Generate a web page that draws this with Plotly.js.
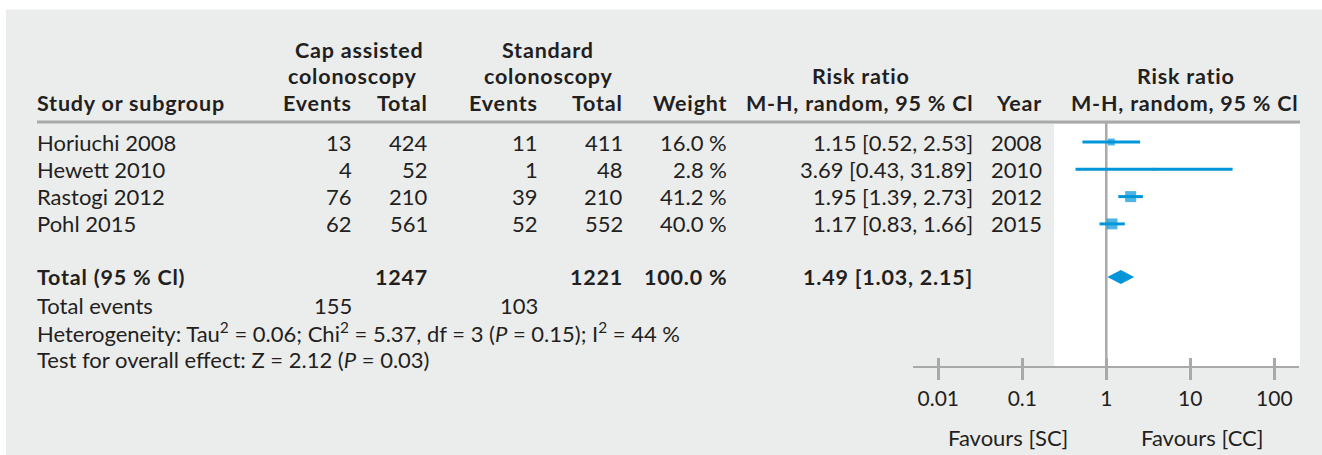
<!DOCTYPE html>
<html><head><meta charset="utf-8">
<script src="https://cdn.plot.ly/plotly-3.0.1.min.js"></script>
<style>
html,body{margin:0;padding:0;background:#fff}
#chart{width:1322px;height:455px}
.annotation-text tspan[style*="bold"]{letter-spacing:0.8px}
</style>
</head><body><div id="chart"></div>
<script>
// ---- data ----
const studies   = ["Horiuchi 2008", "Hewett 2010", "Rastogi 2012", "Pohl 2015"];
const capEvents = [13, 4, 76, 62];
const capTotal  = [424, 52, 210, 561];
const stdEvents = [11, 1, 39, 52];
const stdTotal  = [411, 48, 210, 552];
const weights   = [16.0, 2.8, 41.2, 40.0];
const rr        = [1.15, 3.69, 1.95, 1.17];
const rrLow     = [0.52, 0.43, 1.39, 0.83];
const rrHigh    = [2.53, 31.89, 2.73, 1.66];
const years     = [2008, 2010, 2012, 2015];
const totalLabels = ["Total (95 % Cl)", "Total events"];
const totalCapTotal = [1247];
const totalStdTotal = [1221];
const totalWeight = [100.0];
const totalRR = [1.49, 1.03, 2.15];   // estimate, low, high
const totalCapEvents = [155];
const totalStdEvents = [103];
const heteroText = "Heterogeneity: Tau<sup>2</sup> = 0.06; Chi<sup>2</sup> = 5.37, df = 3 (<i>P</i> = 0.15); I<sup>2</sup> = 44 %";
const testText = "Test for overall effect: Z = 2.12 (<i>P</i> = 0.03)";
const tickVals = [0.01, 0.1, 1, 10, 100];
const tickLabels = ["0.01", "0.1", "1", "10", "100"];
const favourLabels = ["Favours [SC]", "Favours [CC]"];

// ---- layout constants ----
const W = 1322, H = 455;
const FONT = "Lato, 'Open Sans', sans-serif";
const TXT = "#231f20", BLUE = "#0096d9", GRAY = "#a9a9a9", BG = "#ebecec";
const FS = 22, FSB = 21.5;
const px = x => x / W, py = y => 1 - y / H;
const rowY0 = 142, rowStep = 27.3;
const rowY = i => rowY0 + i * rowStep;
const totalY = 277, evY = 305, hetY = 332, testY = 359;
const axisY = 366.7;
const colR = {capE: 352, capT: 428, stdE: 538, stdT: 623, w: 727, rr: 973, yr: 1042};

const ann = [];
function T(text, x, y, anchor, bold) {
  ann.push({
    text: bold ? "<b>" + text + "</b>" : text,
    x: px(x), y: py(y), xref: "paper", yref: "paper",
    xanchor: anchor, yanchor: "middle", showarrow: false,
    borderpad: 0, borderwidth: 0,
    font: {family: FONT, size: bold ? FSB : FS, color: TXT}
  });
}
const fmt2 = v => v.toFixed(2);
const ci = (e, l, h) => fmt2(e) + " [" + fmt2(l) + ", " + fmt2(h) + "]";

// header
T("Cap assisted", 359, 50, "center", true);
T("colonoscopy", 352, 76, "center", true);
T("Standard", 548, 50, "center", true);
T("colonoscopy", 548, 76, "center", true);
T("Risk ratio", 861, 76, "center", true);
T("Risk ratio", 1186, 76, "center", true);
T("Study or subgroup", 37, 103, "left", true);
T("Events", colR.capE, 103, "right", true);
T("Total", colR.capT, 103, "right", true);
T("Events", colR.stdE, 103, "right", true);
T("Total", colR.stdT, 103, "right", true);
T("Weight", colR.w, 103, "right", true);
T("M-H, random, 95 % Cl", colR.rr, 103, "right", true);
T("Year", colR.yr, 103, "right", true);
T("M-H, random, 95 % Cl", 1298, 103, "right", true);

// rows
studies.forEach((s, i) => {
  const y = rowY(i);
  T(s, 37, y, "left");
  T(String(capEvents[i]), colR.capE, y, "right");
  T(String(capTotal[i]), colR.capT, y, "right");
  T(String(stdEvents[i]), colR.stdE, y, "right");
  T(String(stdTotal[i]), colR.stdT, y, "right");
  T(weights[i].toFixed(1) + " %", colR.w, y, "right");
  T(ci(rr[i], rrLow[i], rrHigh[i]), colR.rr, y, "right");
  T(String(years[i]), colR.yr, y, "right");
});

// totals
T(totalLabels[0], 37, totalY, "left", true);
T(String(totalCapTotal[0]), colR.capT, totalY, "right", true);
T(String(totalStdTotal[0]), colR.stdT, totalY, "right", true);
T(totalWeight[0].toFixed(1) + " %", colR.w, totalY, "right", true);
T(ci(totalRR[0], totalRR[1], totalRR[2]), colR.rr, totalY, "right", true);
T(totalLabels[1], 37, evY, "left");
T(String(totalCapEvents[0]), colR.capE, evY, "right");
T(String(totalStdEvents[0]), colR.stdE, evY, "right");
T(heteroText, 37, hetY, "left");
T(testText, 37, testY, "left");
T(favourLabels[0], 1008, 437, "center");
T(favourLabels[1], 1202, 437, "center");

// ---- traces ----
const ys = studies.map((s, i) => rowY(i));
const traces = [
  {
    type: "scatter", mode: "markers", x: rr, y: ys,
    marker: {symbol: "square", color: BLUE, size: weights.map(w => 1.72 * Math.sqrt(w)), line: {width: 0}},
    error_x: {type: "data", symmetric: false,
      array: rr.map((v, i) => rrHigh[i] - v),
      arrayminus: rr.map((v, i) => v - rrLow[i]),
      color: BLUE, thickness: 3, width: 0},
    hoverinfo: "skip", showlegend: false, cliponaxis: false
  },
  {
    type: "scatter", mode: "lines", fill: "toself", fillcolor: BLUE,
    x: [totalRR[1], totalRR[0], totalRR[2], totalRR[0], totalRR[1]],
    y: [totalY, totalY - 7, totalY, totalY + 7, totalY],
    line: {width: 0, color: BLUE}, hoverinfo: "skip", showlegend: false
  },
  {
    type: "scatter", mode: "markers", x: [1], y: [null], xaxis: "x2", yaxis: "y",
    hoverinfo: "skip", showlegend: false
  }
];

const xr = [-2.301, 2.294];
const xdom = [px(913), px(1299)];
const axisPos = py(axisY);
const layout = {
  width: W, height: H, margin: {l: 0, r: 0, t: 0, b: 0},
  paper_bgcolor: "#ffffff", plot_bgcolor: "rgba(0,0,0,0)",
  showlegend: false,
  font: {family: FONT, size: FS, color: TXT},
  xaxis: {
    type: "log", range: xr, domain: xdom, anchor: "free", position: axisPos,
    tickvals: tickVals, ticktext: tickLabels, ticks: "outside", ticklen: 12,
    tickwidth: 2.5, tickcolor: GRAY, showline: true, linecolor: GRAY, linewidth: 2.5,
    showgrid: false, zeroline: false, fixedrange: true, ticklabelstandoff: 1,
    tickfont: {family: FONT, size: 21, color: TXT}
  },
  xaxis2: {
    type: "log", range: xr, domain: xdom, anchor: "free", position: axisPos,
    overlaying: "x", side: "top",
    tickvals: tickVals, ticks: "outside", ticklen: 9, tickwidth: 2.5, tickcolor: GRAY,
    showticklabels: false, showline: false, showgrid: false, zeroline: false, fixedrange: true
  },
  yaxis: {range: [H, 0], domain: [0, 1], visible: false, fixedrange: true},
  shapes: [
    {type: "rect", xref: "paper", yref: "paper", x0: px(6), x1: px(1322), y0: py(9.5), y1: py(455),
     fillcolor: BG, line: {width: 0}, layer: "below"},
    {type: "rect", xref: "paper", yref: "paper", x0: px(1054), x1: px(1300), y0: py(124), y1: py(axisY),
     fillcolor: "#ffffff", line: {width: 0}, layer: "below"},
    {type: "line", xref: "paper", yref: "paper", x0: px(37), x1: px(1300), y0: py(122), y1: py(122),
     line: {color: GRAY, width: 3}, layer: "below"},
    {type: "line", xref: "x", yref: "paper", x0: 1, x1: 1, y0: py(123), y1: py(axisY),
     line: {color: GRAY, width: 2.5}, layer: "below"}
  ],
  annotations: ann
};
Plotly.newPlot("chart", traces, layout, {staticPlot: true, displayModeBar: false});
</script></body></html>
